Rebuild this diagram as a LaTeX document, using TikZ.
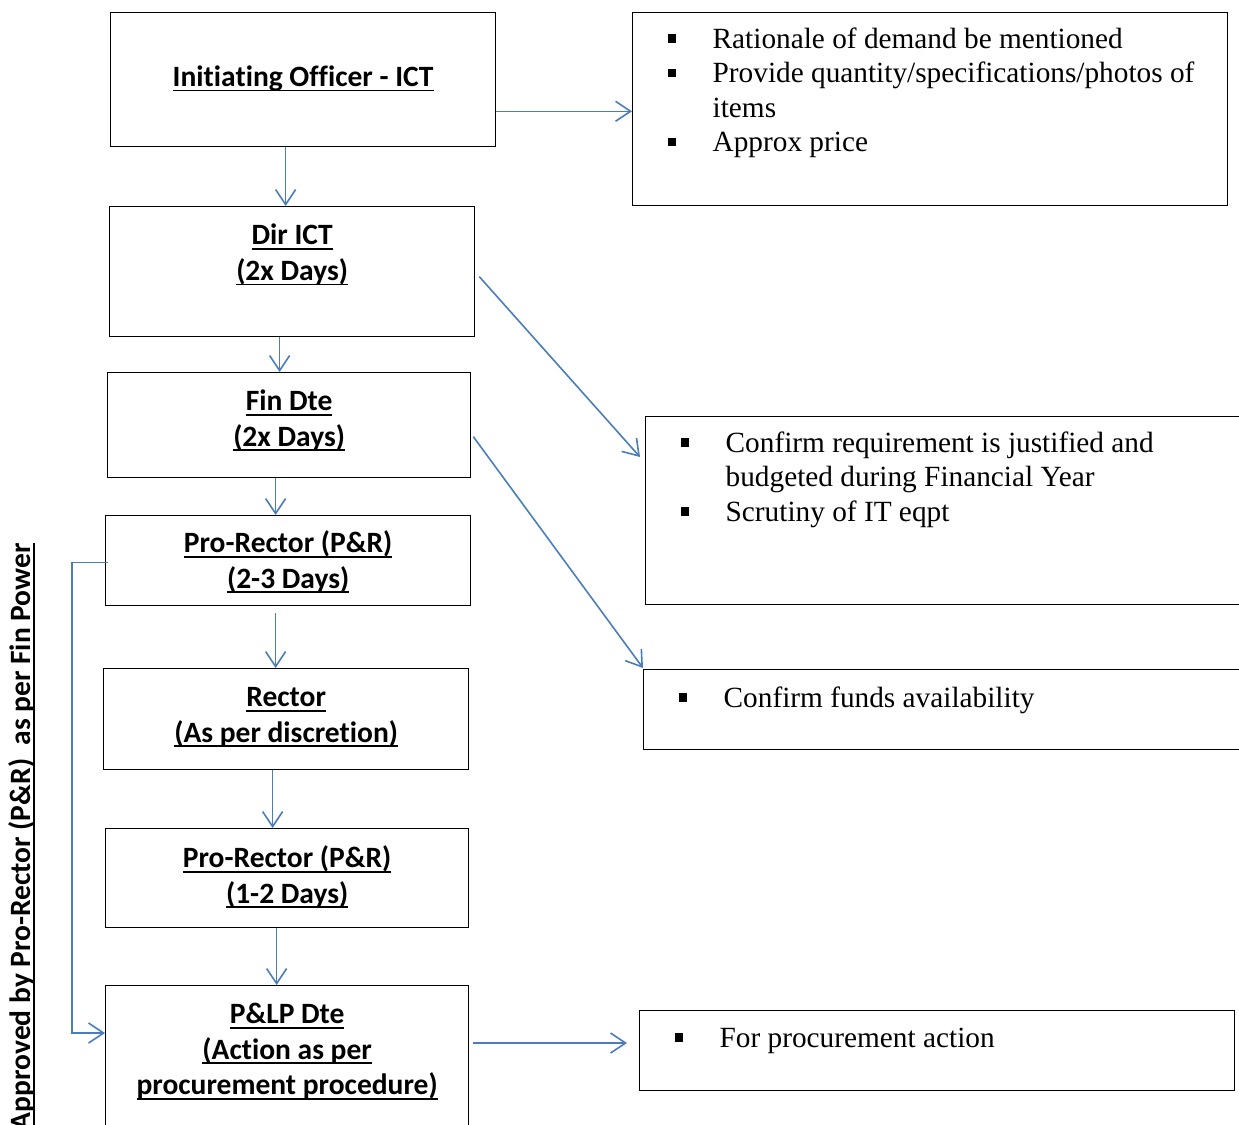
\documentclass[tikz,border=0pt]{standalone}
\usepackage{fontspec}
\setmainfont[Ligatures=NoCommon]{Liberation Serif}
\newfontfamily\calib[Ligatures=NoCommon]{Carlito}
\usetikzlibrary{arrows.meta}
\definecolor{linkblue}{HTML}{4A7EBB}
% underlined text: rule 1.8pt thick, 5pt below the baseline
\newcommand\uln[1]{\leavevmode\setbox0\hbox{#1}\rlap{\rule[-5pt]{\wd0}{1.8pt}}\box0}
% body of a stage box: fixed size, text set from the top
\newcommand\boxbody[4]{\begin{minipage}[t][#2][t]{#1}\centering\vspace*{#3}\strut #4\end{minipage}}
% body of a note box with square bullets
\newcommand\notebody[4]{\begin{minipage}[t][#2][t]{#1}\raggedright\parskip=0pt\vspace*{#3}#4\end{minipage}}
\newcommand\bitem[1]{\par\hangindent=80pt\hangafter=1\noindent\hspace*{35pt}\makebox[45pt][l]{\rule[5.5pt]{8.5pt}{8.5pt}}\strut #1}
\begin{document}
\begin{tikzpicture}[x=1pt,y=-1pt,
  stagebox/.style={draw=black, line width=1.3pt, inner sep=0pt, anchor=north west,
    font=\calib\bfseries\fontsize{29.5}{35.5}\selectfont},
  notebox/.style={draw=black, line width=1.3pt, inner sep=0pt, anchor=north west,
    font=\fontsize{29.3}{34.5}\selectfont},
  flow/.style={draw=linkblue, line width=1.6pt, -{Straight Barb[length=15pt,width=20pt,line width=1.6pt]}},
  sidetext/.style={font=\calib\bfseries\fontsize{29.5}{35.5}\selectfont, inner sep=0pt}]
\useasboundingbox (0,0) rectangle (1239,1124);

% stages
\node[stagebox] (init) at (110,12) {\boxbody{385pt}{134pt}{49pt}{\uln{Initiating Officer - ICT}}};
\node[stagebox] (dir) at (109,206) {\boxbody{365pt}{130pt}{13.4pt}{\uln{Dir ICT}\\\uln{(2x Days)}}};
\node[stagebox] (fin) at (107,372) {\boxbody{363pt}{105pt}{13.2pt}{\uln{Fin Dte}\\\uln{(2x Days)}}};
\node[stagebox] (pra) at (105,515) {\boxbody{365pt}{90pt}{12.2pt}{\uln{Pro-Rector (P\&R)}\\\uln{(2-3 Days)}}};
\node[stagebox] (rector) at (103,668) {\boxbody{365pt}{101pt}{13.2pt}{\uln{Rector}\\\uln{(As per discretion)}}};
\node[stagebox] (prb) at (105,828) {\boxbody{363pt}{99pt}{14.2pt}{\uln{Pro-Rector (P\&R)}\\\uln{(1-2 Days)}}};
\node[stagebox] (plp) at (105,985) {\boxbody{363pt}{160pt}{13.2pt}{\uln{P\&LP Dte}\\\uln{(Action as per}\\\uln{procurement procedure)}}};

% notes
\node[notebox] (noteA) at (632,12) {\notebody{595pt}{193pt}{11.4pt}{%
  \bitem{Rationale of demand be mentioned}%
  \bitem{Provide quantity/specifications/photos of\newline items}%
  \bitem{Approx price}}};
\node[notebox] (noteB) at (645,416) {\notebody{600pt}{188pt}{11.6pt}{%
  \bitem{Confirm requirement is justified and\newline budgeted during Financial Year}%
  \bitem{Scrutiny of IT eqpt}}};
\node[notebox] (noteC) at (643,669) {\notebody{600pt}{80pt}{13.2pt}{%
  \bitem{Confirm funds availability}}};
\node[notebox] (noteD) at (639,1010) {\notebody{595pt}{80pt}{12.4pt}{%
  \bitem{For procurement action}}};

% side caption
\node[sidetext, rotate=90, anchor=base east] (side) at (30,543)
  {\uln{Approved by Pro-Rector (P\&R)\ \ as per Fin Power}};

% connectors
\draw[flow] ([yshift=36pt]init.south east) -- ([yshift=36pt]init.south east -| noteA.west);
\draw[flow] ([xshift=-17.5pt]init.south) -- ([xshift=-17.5pt]init.south |- dir.north);
\draw[flow] ([xshift=-12.5pt]dir.south) -- ([xshift=-12.5pt]dir.south |- fin.north);
\draw[flow] ([xshift=-13.5pt]fin.south) -- ([xshift=-13.5pt]fin.south |- pra.north);
\coordinate (p1) at ([xshift=-12.5pt,yshift=-7pt]pra.south);
\draw[flow] (p1) -- (p1 |- rector.north);
\draw[flow] ([xshift=-13.5pt]rector.south) -- ([xshift=-13.5pt]rector.south |- prb.north);
\draw[flow] ([xshift=-10.5pt]prb.south) -- ([xshift=-10.5pt]prb.south |- plp.north);
\draw[flow] ([xshift=4pt,yshift=-5pt]dir.east) -- ([xshift=-5pt,yshift=-41pt]noteB.north west);
\draw[flow] ([xshift=2pt,yshift=-11.5pt]fin.east) -- ([yshift=1pt]noteC.north west);
\coordinate (d1) at ([xshift=4pt,yshift=-58pt]plp.north east);
\draw[flow, shorten >=12pt] (d1) -- (d1 -| noteD.west);
\coordinate (b1) at ([xshift=3pt,yshift=-2pt]pra.west);
\coordinate (b2) at ([yshift=-48pt]plp.north west);
\draw[flow] (b1) -- ++(-36,0) |- (b2);
\end{tikzpicture}
\end{document}
